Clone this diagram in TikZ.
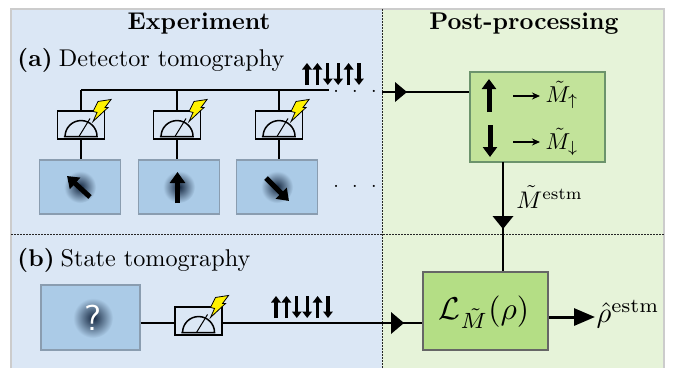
\documentclass[tikz,border=0pt]{standalone}
\usepackage{amsmath}
\usetikzlibrary{arrows.meta,calc}
\definecolor{bluebg}{HTML}{DBE7F5}
\definecolor{greenbg}{HTML}{E6F3D9}
\definecolor{stateblue}{HTML}{ABCBE7}
\definecolor{stateedge}{HTML}{8A9DB0}
\definecolor{boxgreenA}{HTML}{C2E39A}
\definecolor{boxgreenB}{HTML}{B4DE85}
\definecolor{frameg}{HTML}{CCCCCC}
\definecolor{spin}{HTML}{14263F}
\tikzset{
  wire/.style={line width=1.5pt,black},
  hwire/.style={line width=2.2pt,black},
  meterbox/.style={draw=black,line width=1.1pt,fill=bluebg,minimum width=47pt,minimum height=28pt,inner sep=0pt},
  statebox/.style={draw=stateedge,line width=1.1pt,fill=stateblue,inner sep=0pt},
  greenA/.style={draw=gray!85!green,line width=1.2pt,fill=boxgreenA,inner sep=0pt},
  greenB/.style={draw=black!60,line width=2pt,fill=boxgreenB,inner sep=0pt},
  heading/.style={scale=2.42,font=\bfseries,inner sep=0pt},
  label/.style={scale=2.42,anchor=base west,inner sep=0pt},
  mathlabel/.style={scale=2.3,inner sep=0pt},
  tdots/.style={scale=2,inner sep=0pt},
  bitthin/.style={line width=3.2pt,-{Triangle[length=6.5pt,width=9.5pt]},black},
  bigspin/.style={line width=5pt,-{Triangle[length=11pt,width=15pt]},black},
  mapsto/.style={line width=1.2pt,-{Stealth[length=8pt,width=7pt]},black},
  bolt/.style={draw=black,line width=.8pt,fill=yellow},
  headtri/.style={fill=black,draw=none}
}
\newcommand{\drawmeter}[1]{%
  \draw[line width=1.5pt] ($(#1.south west)+(7,-3)$) -- ($(#1.south east)+(-8,-3)$)
     arc[start angle=0,end angle=180,x radius=16pt,y radius=16pt];
  \draw[line width=1pt] ($(#1.south west)+(22,-3)$) -- ($(#1.north east)+(-15,8)$);
  \draw[bolt] ($(#1.north east)+(-7,-9)$) -- ++(13,-2) -- ++(-6,8) -- ++(3,0) -- ++(-15,14)
     -- ++(4,-9) -- ++(-4,-1) -- cycle;
}
\newcommand{\spindisc}[1]{\shade[inner color=spin,outer color=stateblue] (#1) circle[radius=16pt];}
\newcommand{\bitsrow}[3]{% x, ybottom, ytop
  \foreach \k/\d in {0/u,1/u,2/d,3/d,4/u,5/d}{
    \pgfmathsetmacro{\xx}{#1+\k*10.4}
    \if\d u\draw[bitthin] (\xx,#2) -- (\xx,#3);\else\draw[bitthin] (\xx,#3) -- (\xx,#2);\fi
  }
}
\begin{document}
\begin{tikzpicture}[x=1pt,y=-1pt]
\useasboundingbox (0,0) rectangle (673,368);
\fill[white] (0,0) rectangle (673,368);
\fill[bluebg] (11,9) rectangle (382,368);
\fill[greenbg] (382,9) rectangle (664,368);
\draw[frameg,line width=1.6pt] (11,368) -- (11,9) -- (664,9) -- (664,368);
\draw[black!85,line width=1pt,dash pattern=on 1.6pt off 1.4pt] (382,9) -- (382,368);
\draw[black!85,line width=1pt,dash pattern=on 1.6pt off 1.4pt] (11,234) -- (664,234);

\node[heading] (hexp) at (199,24) {Experiment};
\node[heading] (hpost) at (524,24) {Post-processing};
\node[label] (la) at (17,66) {\textbf{(a)}\kern-.08em\ Detector tomography};
\node[label] (lb) at (17,266) {\textbf{(b)}\kern-.08em\ State tomography};

% top wire
\coordinate (wl) at (81,90);
\coordinate (wr) at (329,90);
\coordinate (w2) at (177,90);
\coordinate (w3) at (279,90);
\node[statebox,minimum width=81pt,minimum height=54pt] (s1) at (80,187) {};
\node[statebox,minimum width=81pt,minimum height=54pt] (s2) at (179,187) {};
\node[statebox,minimum width=81pt,minimum height=54pt] (s3) at (277,187) {};
\node[meterbox] (m1) at (81,125) {};
\node[meterbox] (m2) at (177,125) {};
\node[meterbox] (m3) at (279,125) {};
\draw[hwire] (wl) -- (wr);
\draw[wire] (wl) -- (m1.north);
\draw[wire] (w2) -- (m2.north);
\draw[wire] (w3) -- (m3.north);
\draw[wire] (m1.south) -- (m1.south |- s1.north);
\draw[wire] (m2.south) -- (m2.south |- s2.north);
\draw[wire] (m3.south) -- (m3.south |- s3.north);
\drawmeter{m1}\drawmeter{m2}\drawmeter{m3}
\spindisc{s1}\spindisc{s2}\spindisc{s3}
\draw[bigspin] (90,197) -- (67,176);
\draw[bigspin] (177.5,203) -- (177.5,172);
\draw[bigspin] (266,178) -- (289,201);
\bitsrow{307}{85}{63}
\node[tdots] (d1) at (355,91) {$.\ \ .\ \ .$};
\node[tdots] (d2) at (355,186) {$.\ \ .\ \ .$};

% readout box
\node[greenA,minimum width=135pt,minimum height=90pt] (rb) at (537.5,117) {};
\coordinate (entryA) at (382,92);
\draw[wire] (entryA) -- (rb.west |- entryA);
\fill[headtri] (395,82) -- (407,92) -- (395,102) -- cycle;
\draw[line width=5pt,-{Triangle[length=10pt,width=14pt]}] (489,112) -- (489,79);
\draw[line width=5pt,-{Triangle[length=10pt,width=14pt]}] (490,125) -- (490,157);
\draw[mapsto] (513,96) -- (540,96);
\draw[mapsto] (513,142) -- (540,142);
\node[mathlabel] (mu) at (562,95) {$\tilde M_{\uparrow}$};
\node[mathlabel] (md) at (562,142) {$\tilde M_{\downarrow}$};

% estimator box
\node[greenB,minimum width=125pt,minimum height=78pt] (eb) at (485.5,311) {};
\coordinate (dl) at (503,162);
\draw[wire] (dl) -- (503,271);
\fill[headtri] (492.5,216) -- (513.5,216) -- (503,229) -- cycle;
\node[scale=2.4,inner sep=0pt,anchor=west] (mest) at (516,197) {$\tilde M^{\mathrm{estm}}$};
\node[scale=3.15,inner sep=0pt] (lbl) at (484,312) {$\mathcal{L}_{\tilde M}(\rho)$};
\draw[line width=3pt,-{Triangle[length=21pt,width=17pt]}] (eb.east |- 0,317) -- (595,317);
\node[scale=2.85,inner sep=0pt,anchor=west] (rho) at (596,314) {$\hat\rho^{\mathrm{estm}}$};

% state tomography row
\node[statebox,minimum width=99pt,minimum height=65pt] (sb) at (90.5,317.5) {};
\node[meterbox] (mb) at (198.5,321) {};
\coordinate (rowy) at (0,323);
\draw[wire] (sb.east |- rowy) -- (mb.west |- rowy);
\draw[wire] (mb.east |- rowy) -- (eb.west |- rowy);
\drawmeter{mb}
\shade[inner color=spin,outer color=stateblue] (93,318) circle[radius=20pt];
\node[scale=3.6,text=white,font=\sffamily,inner sep=0pt] (q) at (93,318) {?};
\bitsrow{276}{318}{296}
\fill[headtri] (391,312) -- (404,323) -- (391,334) -- cycle;
\end{tikzpicture}
\end{document}
